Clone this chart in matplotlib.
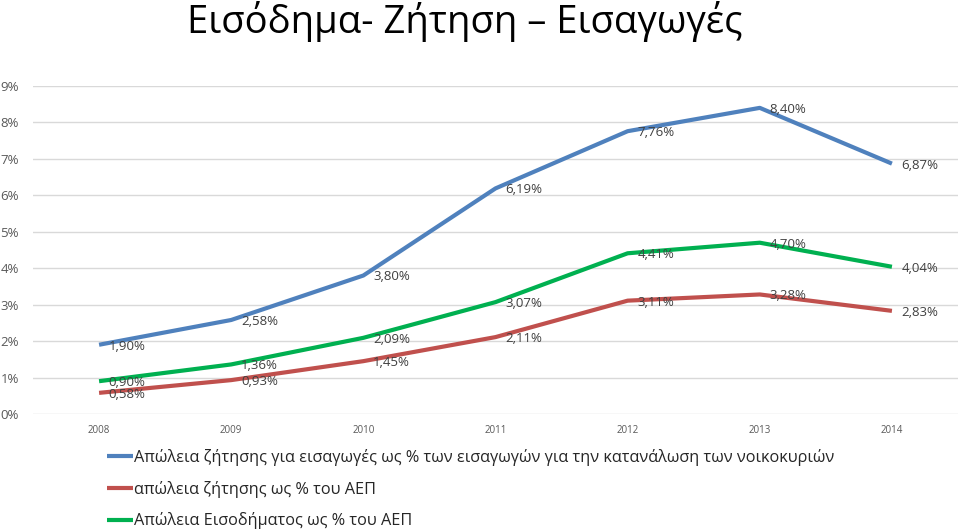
import matplotlib
matplotlib.use("Agg")
import matplotlib.pyplot as plt

plt.rcParams['font.family'] = ['Open Sans', 'DejaVu Sans']

title = "Εισόδημα- Ζήτηση – Εισαγωγές"
years = ["2008", "2009", "2010", "2011", "2012", "2013", "2014"]
blue_vals = [1.90, 2.58, 3.80, 6.19, 7.76, 8.40, 6.87]
red_vals = [0.58, 0.93, 1.45, 2.11, 3.11, 3.28, 2.83]
green_vals = [0.90, 1.36, 2.09, 3.07, 4.41, 4.70, 4.04]
series_names = [
    "Απώλεια ζήτησης για εισαγωγές ως % των εισαγωγών για την κατανάλωση των νοικοκυριών",
    "απώλεια ζήτησης ως % του ΑΕΠ",
    "Απώλεια Εισοδήματος ως % του ΑΕΠ",
]
yticks = [0, 1, 2, 3, 4, 5, 6, 7, 8, 9]
colors = ["#4F81BD", "#C0504D", "#00B050"]

fig = plt.figure(figsize=(9.6, 5.29), dpi=100)
ax = fig.add_axes([33/960, 1-414/529, (958-33)/960, (414-86)/529])

x = list(range(len(years)))
handles = []
for vals, name, c in zip([blue_vals, red_vals, green_vals], series_names, colors):
    h, = ax.plot(x, vals, color=c, lw=3, solid_capstyle='butt', label=name, zorder=3)
    handles.append(h)
    for xi, v in zip(x, vals):
        ax.annotate(f"{v:.2f}".replace('.', ',') + '%', (xi, v), xytext=(7, -1),
                    textcoords='offset points', ha='left', va='center',
                    fontsize=9.5, color='#404040', zorder=4)

ax.set_xlim(-0.5, len(years) - 0.5)
ax.set_ylim(0, 9)
ax.set_yticks(yticks)
ax.set_yticklabels([f"{t}%" for t in yticks])
ax.set_xticks(x)
ax.set_xticklabels(years)
ax.tick_params(axis='y', length=0, pad=10, labelsize=9.5, labelcolor='#595959')
ax.tick_params(axis='x', length=0, pad=8, labelsize=7, labelcolor='#595959')
ax.grid(axis='y', color='#D9D9D9', lw=1)
ax.set_axisbelow(True)
for s in ax.spines.values():
    s.set_visible(False)

fig.text(465/960, 1-22/529, title, ha='center', va='center', fontsize=27.5, color='#000000')

leg = fig.legend(handles=handles, labels=series_names, loc='upper left',
                 bbox_to_anchor=(107/960, 1-449/529), frameon=False,
                 fontsize=11.7, handlelength=1.6, handletextpad=0.05, labelspacing=0.9,
                 borderaxespad=0, borderpad=0)
for t in leg.get_texts():
    t.set_color('#262626')

fig.savefig("out.png", dpi=100)
